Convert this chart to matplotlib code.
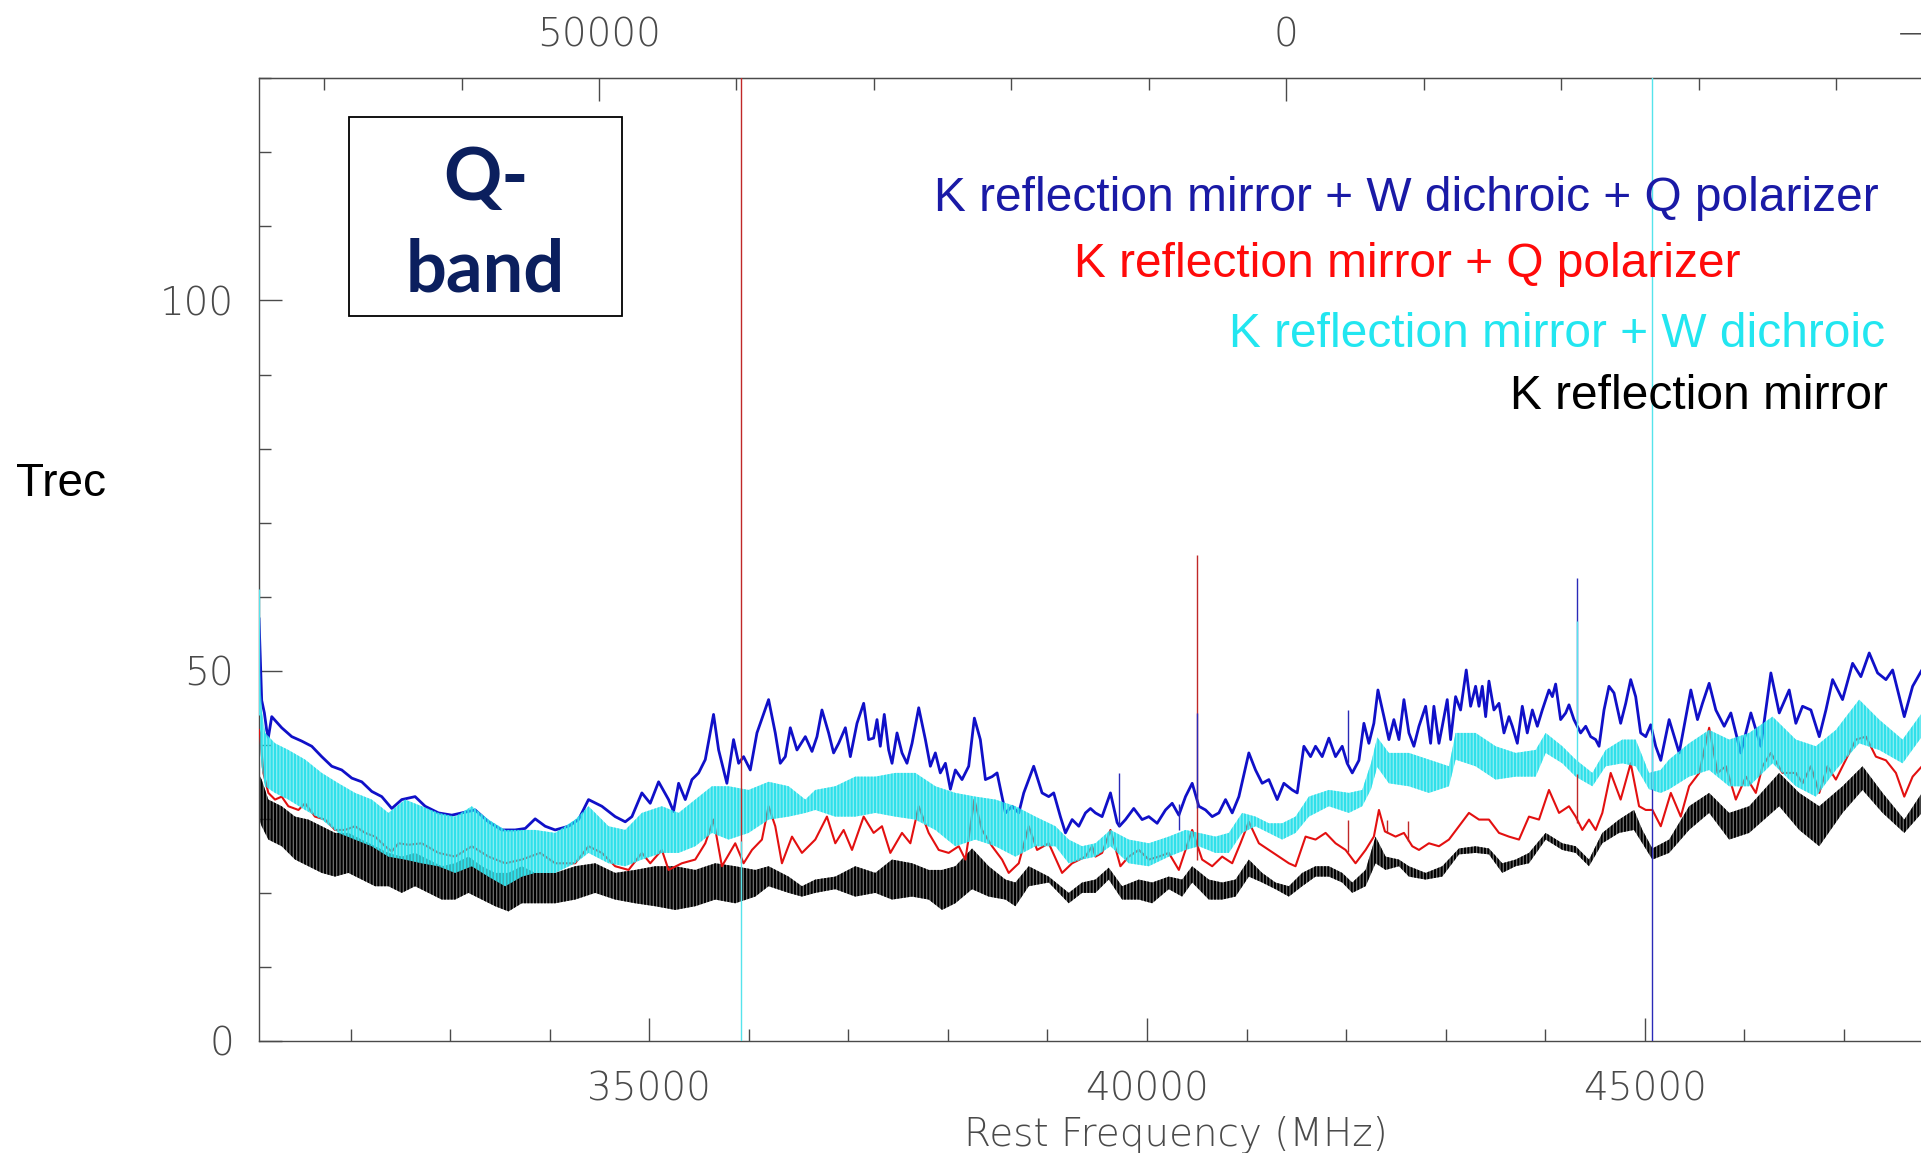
import matplotlib
matplotlib.use("Agg")
import matplotlib.pyplot as plt
from matplotlib import font_manager as fm
from matplotlib.colors import to_rgba
from matplotlib.patches import Rectangle
from matplotlib.ticker import MultipleLocator, FixedLocator, FuncFormatter

# ---------------------------------------------------------------- data
# K reflection mirror + W dichroic + Q polarizer (blue)
blue_freq = [31080, 31107, 31134, 31157, 31174, 31208, 31308, 31409, 31509, 31610, 31710, 31811, 31911, 32012,
             32112, 32213, 32313, 32414, 32514, 32648, 32749, 32883, 33017, 33117, 33251, 33385, 33519, 33653,
             33754, 33854, 33955, 34055, 34189, 34290, 34390, 34524, 34658, 34759, 34826, 34926, 35010, 35094,
             35194, 35244, 35295, 35362, 35429, 35496, 35563, 35646, 35697, 35780, 35847, 35898, 35948, 36015,
             36082, 36199, 36266, 36316, 36367, 36417, 36484, 36568, 36635, 36685, 36735, 36802, 36852, 36903,
             36970, 37020, 37087, 37154, 37204, 37254, 37288, 37321, 37361, 37405, 37439, 37489, 37539, 37589,
             37640, 37707, 37774, 37824, 37874, 37924, 37975, 38025, 38075, 38142, 38209, 38266, 38326, 38377,
             38444, 38494, 38578, 38645, 38712, 38762, 38862, 38946, 39013, 39063, 39130, 39181, 39248, 39315,
             39382, 39432, 39482, 39549, 39633, 39700, 39723, 39784, 39867, 39951, 40018, 40102, 40186, 40253,
             40320, 40387, 40454, 40521, 40588, 40655, 40722, 40789, 40856, 40923, 41023, 41090, 41157, 41224,
             41308, 41375, 41459, 41509, 41576, 41643, 41693, 41760, 41827, 41894, 41961, 42011, 42062, 42129,
             42179, 42229, 42279, 42320, 42380, 42430, 42480, 42531, 42581, 42631, 42681, 42732, 42799, 42849,
             42882, 42933, 42966, 43016, 43050, 43100, 43150, 43207, 43251, 43301, 43335, 43368, 43402, 43435,
             43485, 43536, 43586, 43636, 43670, 43720, 43770, 43820, 43871, 43921, 43971, 44038, 44072, 44105,
             44155, 44206, 44239, 44289, 44356, 44407, 44457, 44507, 44541, 44591, 44641, 44691, 44758, 44809,
             44859, 44909, 44959, 45010, 45060, 45110, 45161, 45245, 45346, 45463, 45530, 45580, 45647, 45714,
             45798, 45865, 45965, 46066, 46166, 46267, 46351, 46451, 46518, 46585, 46669, 46753, 46820, 46887,
             46987, 47088, 47171, 47255, 47339, 47423, 47490, 47607, 47691, 47784, 47900]
blue_trec = [57.0, 46.0, 44.3, 42.0, 41.0, 43.8, 42.3, 41.1, 40.5, 39.8, 38.4, 37.1, 36.6, 35.5,
             35.0, 33.7, 33.0, 31.4, 32.6, 33.0, 31.7, 30.8, 30.5, 30.8, 31.2, 29.6, 28.5, 28.5,
             28.7, 30.0, 29.0, 28.5, 29.0, 29.9, 32.6, 31.7, 30.3, 29.6, 30.3, 33.5, 32.1, 35.0,
             32.6, 31.0, 34.8, 32.6, 35.3, 36.2, 38.0, 44.1, 39.3, 34.8, 40.7, 37.5, 38.4, 36.6,
             41.6, 46.1, 41.6, 37.5, 38.4, 42.3, 39.3, 41.1, 39.1, 41.1, 44.7, 41.6, 38.9, 40.2,
             42.3, 38.4, 42.9, 45.6, 40.7, 40.9, 43.4, 39.8, 44.1, 39.3, 37.5, 41.6, 38.9, 37.5,
             40.2, 45.0, 40.7, 37.1, 38.9, 36.2, 37.5, 34.0, 36.6, 35.3, 37.1, 43.6, 40.7, 35.3,
             35.7, 36.2, 30.8, 31.7, 30.8, 33.5, 37.1, 33.5, 33.0, 33.5, 30.3, 28.1, 29.9, 29.0,
             30.8, 31.4, 30.8, 30.3, 33.5, 29.5, 29.0, 29.9, 31.4, 29.9, 30.3, 29.4, 31.2, 32.1,
             30.5, 33.0, 34.8, 31.7, 31.2, 30.3, 30.8, 32.6, 30.8, 33.0, 38.9, 36.6, 34.8, 35.3,
             32.6, 34.8, 33.9, 33.5, 39.8, 38.4, 39.8, 38.4, 40.9, 38.4, 39.8, 37.5, 36.2, 37.9,
             42.9, 40.2, 42.9, 47.4, 43.8, 40.7, 43.4, 40.7, 46.1, 41.6, 39.8, 42.5, 45.2, 40.2,
             45.2, 40.2, 42.5, 46.1, 40.7, 46.5, 44.7, 50.1, 45.2, 47.9, 45.2, 47.9, 43.8, 48.6,
             44.7, 45.6, 41.6, 43.8, 42.5, 40.2, 45.2, 41.6, 44.7, 42.5, 44.7, 47.4, 46.5, 48.2,
             43.4, 44.3, 45.4, 43.4, 41.6, 42.5, 41.1, 40.7, 39.8, 44.7, 47.9, 47.0, 42.9, 45.6,
             48.8, 46.5, 41.6, 41.1, 42.7, 39.8, 37.9, 43.4, 38.9, 47.4, 43.4, 45.6, 48.3, 44.7,
             42.5, 44.3, 38.9, 44.3, 39.8, 49.7, 44.3, 47.4, 42.9, 45.2, 44.7, 41.1, 44.7, 48.8,
             46.1, 51.0, 49.2, 52.4, 49.7, 48.8, 50.1, 43.8, 47.9, 50.1, 49.0]

# K reflection mirror + Q polarizer (red)
red_freq = [31080, 31090, 31124, 31174, 31241, 31308, 31375, 31476, 31543, 31643, 31744, 31844, 31945, 32045,
            32146, 32246, 32347, 32414, 32481, 32581, 32715, 32883, 33050, 33218, 33385, 33553, 33720, 33904,
            34055, 34256, 34390, 34524, 34658, 34792, 34926, 35010, 35127, 35194, 35328, 35462, 35563, 35646,
            35730, 35864, 35948, 36032, 36132, 36199, 36266, 36333, 36434, 36534, 36668, 36785, 36869, 36953,
            37037, 37154, 37254, 37338, 37422, 37539, 37623, 37707, 37807, 37908, 38008, 38109, 38176, 38266,
            38343, 38444, 38544, 38611, 38712, 38812, 38896, 39013, 39147, 39248, 39382, 39449, 39482, 39549,
            39633, 39733, 39817, 39918, 40018, 40119, 40219, 40320, 40454, 40554, 40655, 40755, 40856, 40939,
            41023, 41124, 41224, 41325, 41425, 41492, 41593, 41693, 41794, 41894, 41995, 42095, 42196, 42279,
            42330, 42390, 42497, 42581, 42665, 42732, 42832, 42933, 43033, 43134, 43234, 43335, 43435, 43536,
            43636, 43737, 43837, 43938, 44038, 44139, 44239, 44306, 44373, 44440, 44507, 44574, 44658, 44758,
            44859, 44943, 45010, 45077, 45161, 45262, 45362, 45446, 45547, 45647, 45731, 45815, 45915, 46016,
            46116, 46183, 46267, 46384, 46518, 46585, 46669, 46753, 46836, 46920, 47021, 47121, 47222, 47322,
            47423, 47523, 47607, 47691, 47784, 47900]
red_trec = [42.0, 41.6, 36.2, 33.5, 32.6, 33.0, 31.7, 31.2, 32.1, 30.3, 29.9, 28.5, 28.5, 29.0,
            28.1, 27.6, 26.3, 25.6, 26.7, 26.5, 26.7, 25.4, 24.9, 26.3, 24.9, 24.0, 24.5, 25.4,
            24.0, 24.0, 26.3, 25.4, 23.6, 23.1, 25.4, 24.0, 25.8, 23.1, 24.0, 24.5, 26.7, 29.9,
            23.6, 26.7, 24.0, 25.8, 27.2, 31.7, 29.0, 24.0, 27.6, 25.4, 27.2, 30.3, 26.7, 28.5,
            25.8, 30.3, 28.1, 29.0, 25.4, 28.1, 26.7, 31.7, 28.1, 25.8, 25.4, 26.3, 24.5, 32.6,
            28.5, 26.3, 24.5, 22.7, 24.0, 29.0, 25.8, 26.7, 22.7, 24.0, 24.9, 26.3, 24.9, 25.4,
            28.5, 23.6, 24.9, 25.8, 24.5, 24.9, 25.4, 23.1, 28.5, 24.5, 23.6, 24.9, 24.0, 26.7,
            29.6, 26.7, 25.8, 24.9, 24.0, 23.6, 27.6, 27.2, 28.1, 26.7, 25.8, 24.0, 25.8, 27.6,
            31.2, 28.3, 27.6, 28.1, 26.3, 25.8, 26.7, 26.3, 27.2, 29.0, 30.8, 29.9, 29.9, 28.1,
            27.6, 27.2, 30.3, 29.9, 33.9, 30.8, 31.7, 30.3, 28.5, 29.9, 28.5, 30.8, 36.2, 32.6,
            37.5, 31.7, 31.2, 31.2, 29.0, 33.5, 30.3, 34.4, 36.2, 42.3, 36.2, 37.1, 32.6, 35.7,
            33.5, 37.1, 38.9, 36.2, 36.2, 34.8, 37.1, 33.5, 37.1, 35.3, 38.0, 40.7, 41.1, 38.4,
            37.9, 36.2, 33.0, 35.7, 37.1, 37.5]

# K reflection mirror + W dichroic (cyan): standing-wave ripple envelope
cyan_freq = [31090, 31107, 31141, 31241, 31375, 31543, 31710, 31878, 32045, 32213, 32380, 32548, 32715, 32883,
             33050, 33218, 33385, 33553, 33720, 33854, 34055, 34256, 34390, 34591, 34759, 34926, 35127, 35295,
             35462, 35630, 35797, 35998, 36199, 36400, 36568, 36668, 36869, 37070, 37271, 37472, 37673, 37874,
             38075, 38276, 38477, 38678, 38879, 39080, 39214, 39348, 39482, 39633, 39817, 40018, 40219, 40387,
             40521, 40688, 40822, 40956, 41090, 41224, 41358, 41492, 41626, 41827, 42028, 42162, 42250, 42313,
             42430, 42631, 42832, 43033, 43100, 43301, 43502, 43703, 43904, 44005, 44172, 44306, 44474, 44608,
             44775, 44909, 45043, 45160, 45245, 45446, 45647, 45848, 46049, 46284, 46518, 46719, 46920, 47154,
             47355, 47590, 47784, 47900]
cyan_lo = [40.0, 37.0, 34.4, 33.5, 32.6, 31.2, 29.9, 28.1, 27.2, 26.3, 24.9, 24.5, 24.0, 23.6,
           22.7, 23.6, 22.2, 20.9, 22.2, 22.7, 22.7, 24.0, 25.4, 24.0, 23.6, 24.5, 25.4, 25.4,
           26.3, 28.1, 27.2, 28.1, 29.9, 30.3, 30.8, 31.2, 30.3, 30.3, 30.8, 30.3, 29.9, 28.5,
           26.3, 27.2, 26.3, 24.9, 26.3, 26.3, 24.0, 24.5, 24.9, 26.3, 24.0, 23.6, 24.9, 25.8,
           26.3, 25.4, 25.4, 28.1, 29.0, 28.1, 27.2, 28.1, 30.3, 31.7, 30.8, 31.7, 34.0, 37.0,
           34.8, 34.4, 33.5, 34.4, 38.0, 37.1, 35.3, 35.7, 35.7, 38.9, 37.5, 35.7, 34.4, 37.1,
           37.5, 37.1, 34.0, 33.5, 34.0, 35.7, 36.6, 34.4, 34.4, 37.5, 34.4, 33.0, 36.6, 40.2,
           39.3, 37.5, 41.1, 41.0]
cyan_hi = [50.0, 44.7, 41.6, 40.2, 39.3, 38.0, 36.2, 34.8, 33.5, 32.6, 30.8, 32.6, 31.7, 30.8,
           30.3, 31.7, 29.9, 28.5, 28.5, 28.5, 28.1, 29.9, 31.7, 29.0, 28.5, 30.8, 31.7, 30.8,
           32.6, 34.4, 34.4, 33.9, 35.0, 34.4, 32.6, 33.9, 34.4, 35.7, 35.7, 36.2, 36.2, 34.4,
           33.5, 33.0, 32.6, 31.7, 30.3, 29.0, 27.2, 26.3, 26.7, 28.5, 27.2, 26.7, 27.6, 28.5,
           28.1, 27.6, 28.1, 30.8, 30.3, 29.4, 29.4, 30.3, 33.0, 33.9, 33.5, 33.9, 37.5, 41.0,
           38.9, 38.9, 38.0, 37.1, 41.6, 41.6, 39.8, 38.9, 39.3, 41.6, 39.8, 38.0, 36.2, 39.3,
           40.7, 40.7, 36.2, 36.6, 38.0, 40.2, 42.0, 40.7, 41.6, 43.8, 40.7, 39.8, 42.0, 46.1,
           43.4, 40.7, 44.3, 44.0]

# K reflection mirror (black): standing-wave ripple envelope
black_freq = [31080, 31107, 31174, 31308, 31442, 31576, 31710, 31844, 31978, 32112, 32246, 32380, 32514, 32648,
              32782, 32916, 33050, 33184, 33318, 33452, 33586, 33720, 33854, 34055, 34256, 34457, 34658, 34859,
              35060, 35261, 35462, 35663, 35864, 36065, 36199, 36400, 36534, 36668, 36869, 37070, 37271, 37439,
              37640, 37807, 37941, 38075, 38243, 38410, 38578, 38678, 38812, 39013, 39214, 39348, 39482, 39616,
              39750, 39918, 40052, 40219, 40353, 40454, 40621, 40755, 40889, 41023, 41157, 41291, 41425, 41559,
              41693, 41827, 41961, 42062, 42196, 42296, 42397, 42531, 42631, 42799, 42966, 43134, 43301, 43435,
              43569, 43703, 43837, 44005, 44172, 44306, 44440, 44574, 44742, 44892, 44976, 45077, 45245, 45446,
              45647, 45848, 46049, 46351, 46552, 46753, 46987, 47188, 47389, 47607, 47784, 47900]
black_lo = [30.0, 29.0, 27.2, 26.3, 24.5, 23.6, 22.7, 22.2, 22.7, 21.8, 20.9, 20.9, 20.0, 20.9,
            20.0, 19.1, 19.1, 20.0, 19.1, 18.2, 17.5, 18.6, 18.6, 18.6, 19.1, 20.0, 19.1, 18.6,
            18.2, 17.7, 18.2, 19.1, 18.6, 19.5, 20.9, 20.0, 19.5, 20.0, 20.5, 19.5, 20.0, 19.1,
            19.5, 19.1, 17.7, 18.6, 20.5, 19.5, 19.1, 18.2, 20.9, 21.4, 18.6, 20.0, 20.0, 21.8,
            19.1, 19.1, 18.6, 20.5, 19.5, 21.4, 19.1, 19.1, 19.5, 22.2, 21.4, 20.5, 19.5, 20.9,
            22.2, 22.2, 21.4, 20.0, 20.9, 24.0, 23.1, 23.6, 22.2, 21.8, 22.2, 25.2, 25.4, 25.2,
            22.7, 23.6, 24.0, 27.2, 25.8, 25.4, 23.6, 26.7, 28.1, 28.5, 26.7, 24.5, 25.4, 28.5,
            30.8, 27.2, 28.1, 31.7, 28.5, 26.3, 30.8, 33.9, 30.8, 28.1, 30.8, 31.0]
black_hi = [36.0, 35.3, 32.6, 31.7, 30.3, 29.9, 29.0, 28.1, 28.1, 27.2, 26.3, 25.4, 24.9, 25.4,
            24.5, 23.6, 24.0, 24.9, 23.6, 22.7, 22.7, 23.6, 22.7, 22.7, 23.6, 24.0, 22.7, 23.1,
            23.6, 23.6, 23.1, 24.0, 23.6, 23.1, 23.6, 22.2, 20.9, 21.8, 22.2, 23.6, 22.7, 24.5,
            24.0, 23.1, 23.1, 23.6, 26.0, 23.6, 21.8, 21.4, 23.6, 22.2, 20.0, 21.4, 21.8, 23.4,
            20.9, 21.8, 21.4, 22.2, 21.8, 23.6, 21.8, 21.4, 21.8, 24.5, 22.7, 21.4, 20.9, 22.7,
            23.6, 23.6, 22.7, 21.4, 23.1, 27.6, 24.9, 24.5, 23.6, 22.7, 23.6, 26.0, 26.3, 26.0,
            24.0, 24.5, 25.4, 28.1, 26.7, 26.3, 24.5, 28.1, 29.9, 31.2, 28.5, 26.0, 27.2, 31.7,
            33.5, 30.8, 31.7, 36.2, 33.5, 31.7, 34.4, 37.1, 33.5, 29.9, 33.5, 34.0]

# single-channel spikes: frequency, level of the trace, spike tip
red_spike_freq = [35925, 40501, 42021, 42413, 42621, 44323]
red_spike_base = [24.0, 24.5, 25.5, 28.1, 27.0, 29.5]
red_spike_tip = [200.0, 65.6, 29.9, 29.9, 29.7, 36.0]
blue_spike_freq = [39723, 40320, 40501, 42021, 44323, 45070]
blue_spike_base = [29.0, 32.0, 31.5, 37.5, 43.0, 41.5]
blue_spike_tip = [36.2, 28.5, 44.3, 44.7, 62.5, -20.0]
cyan_spike_freq = [31082, 35925, 44323, 45070]
cyan_spike_base = [44.0, 27.0, 37.0, 34.0]
cyan_spike_tip = [61.0, -20.0, 56.7, 200.0]

legend_labels = ["K reflection mirror + W dichroic + Q polarizer",
                 "K reflection mirror + Q polarizer",
                 "K reflection mirror + W dichroic",
                 "K reflection mirror"]

x_major_ticks = 5000
y_major_ticks = 50
velocity_ticks = [50000, 0, -50000]

# ---------------------------------------------------------------- style
C_KMS = 299792.458
F_REST = 41400.0


def f2v(f):
    return C_KMS * (1.0 - f / F_REST)


def v2f(v):
    return F_REST * (1.0 - v / C_KMS)


def light_family():
    for fam in ["DejaVu Sans", "Lato", "Open Sans", "Roboto", "Inter", "Noto Sans"]:
        for f in fm.fontManager.ttflist:
            w = f.weight
            if isinstance(w, str):
                w = fm.weight_dict.get(w, 400)
            if f.name == fam and f.style == "normal" and w <= 300:
                return fam
    return "DejaVu Sans"


TICK_FAMILY = light_family()
plt.rcParams["font.family"] = [TICK_FAMILY, "DejaVu Sans"]
plt.rcParams["font.weight"] = "light"
plt.rcParams["hatch.linewidth"] = 1.5

AXIS_GREY = "#4a4a4a"
BLUE = "#1010c8"
RED = "#e31010"
CYAN = "#2fe0ea"
BLACK = "#000000"

W, H = 1921, 1153
fig = plt.figure(figsize=(W / 100, H / 100), dpi=100)
ax_left, ax_right, ax_top, ax_bottom = 259, 2141.5, 78.3, 1041
ax = fig.add_axes([ax_left / W, 1 - ax_bottom / H, (ax_right - ax_left) / W, (ax_bottom - ax_top) / H])
ax.set_xlim(31080, 49990)
ax.set_ylim(0, 130)

# ripple bands and traces
plt.rcParams["hatch.color"] = BLACK
ax.fill_between(black_freq, black_lo, black_hi, facecolor=to_rgba("#303030", 0.7), edgecolor=BLACK,
                hatch="|||||", linewidth=0, zorder=2)
ax.plot(red_freq, red_trec, color=RED, lw=1.5, zorder=3)
ax.plot(blue_freq, blue_trec, color=BLUE, lw=2.0, zorder=4)
plt.rcParams["hatch.color"] = CYAN
ax.fill_between(cyan_freq, cyan_lo, cyan_hi, facecolor=to_rgba(CYAN, 0.55), edgecolor=CYAN,
                hatch="|||||", linewidth=0, zorder=5)

ax.vlines(red_spike_freq, red_spike_base, red_spike_tip, colors="#c02828", lw=1.0, zorder=6)
ax.vlines(blue_spike_freq, blue_spike_base, blue_spike_tip, colors="#2a2ab8", lw=1.0, zorder=7)
ax.vlines(cyan_spike_freq, cyan_spike_base, cyan_spike_tip, colors="#55e4ec", lw=1.0, zorder=8)

# axes frame and ticks
for side in ("left", "bottom", "top", "right"):
    ax.spines[side].set_color(AXIS_GREY)
    ax.spines[side].set_linewidth(1.0)
ax.xaxis.set_major_locator(MultipleLocator(x_major_ticks))
ax.xaxis.set_minor_locator(MultipleLocator(1000))
ax.yaxis.set_major_locator(MultipleLocator(y_major_ticks))
ax.yaxis.set_minor_locator(MultipleLocator(10))
ax.xaxis.set_major_formatter(FuncFormatter(lambda v, p: f"{int(round(v))}"))
ax.yaxis.set_major_formatter(FuncFormatter(lambda v, p: f"{int(round(v))}"))
ax.tick_params(which="both", direction="in", top=False, right=False, color=AXIS_GREY,
               labelcolor=AXIS_GREY, labelsize=28, width=1.0)
ax.tick_params(which="major", length=16.5)
ax.tick_params(which="minor", length=8.6)
ax.tick_params(axis="x", which="major", pad=21)
ax.tick_params(axis="y", which="major", pad=18)

# velocity scale along the top
sec = ax.secondary_xaxis("top", functions=(f2v, v2f))
sec.spines["top"].set_color(AXIS_GREY)
sec.xaxis.set_major_locator(FixedLocator(velocity_ticks))
sec.xaxis.set_minor_locator(MultipleLocator(10000))
sec.xaxis.set_major_formatter(FuncFormatter(lambda v, p: f"{int(round(v))}".replace("-", "\u2212")))
sec.tick_params(which="both", direction="in", color=AXIS_GREY, labelcolor=AXIS_GREY,
                labelsize=28, width=1.0)
sec.tick_params(which="major", length=16.5, pad=17)
sec.tick_params(which="minor", length=8.6)

# axis titles
fig.text(1176 / W, 1 - 1146 / H, "Rest Frequency (MHz)", ha="center", va="baseline",
         fontsize=28, color=AXIS_GREY, family=[TICK_FAMILY, "DejaVu Sans"], weight="light")
fig.text(16 / W, 1 - 496 / H, "Trec", ha="left", va="baseline", fontsize=33,
         color="black", family=["Liberation Sans", "DejaVu Sans"], weight="normal")

# series labels
label_specs = [(1879, 210.7, "#1a1aa6"), (1740, 276.7, "#ff0a0a"),
               (1885, 346.7, "#22e6f0"), (1888, 409.0, "#000000")]
for text, (xr, yb, col) in zip(legend_labels, label_specs):
    fig.text(xr / W, 1 - yb / H, text, ha="right", va="baseline", fontsize=34.5, color=col,
             family=["Liberation Sans", "DejaVu Sans"], weight="normal")

# band tag
box_l, box_r, box_t, box_b = 349, 621.5, 117.3, 315.7
fig.add_artist(Rectangle((box_l / W, 1 - box_b / H), (box_r - box_l) / W, (box_b - box_t) / H,
                         transform=fig.transFigure, fill=False, edgecolor="black", lw=1.3))
for txt, yb in (("Q-", 200.0), ("band", 291.7)):
    fig.text(485.5 / W, 1 - yb / H, txt, ha="center", va="baseline", fontsize=52,
             color="#0b1f5e", family=["Lato", "Open Sans", "DejaVu Sans"], weight="bold")

fig.savefig("out.png", dpi=100, facecolor="white")
